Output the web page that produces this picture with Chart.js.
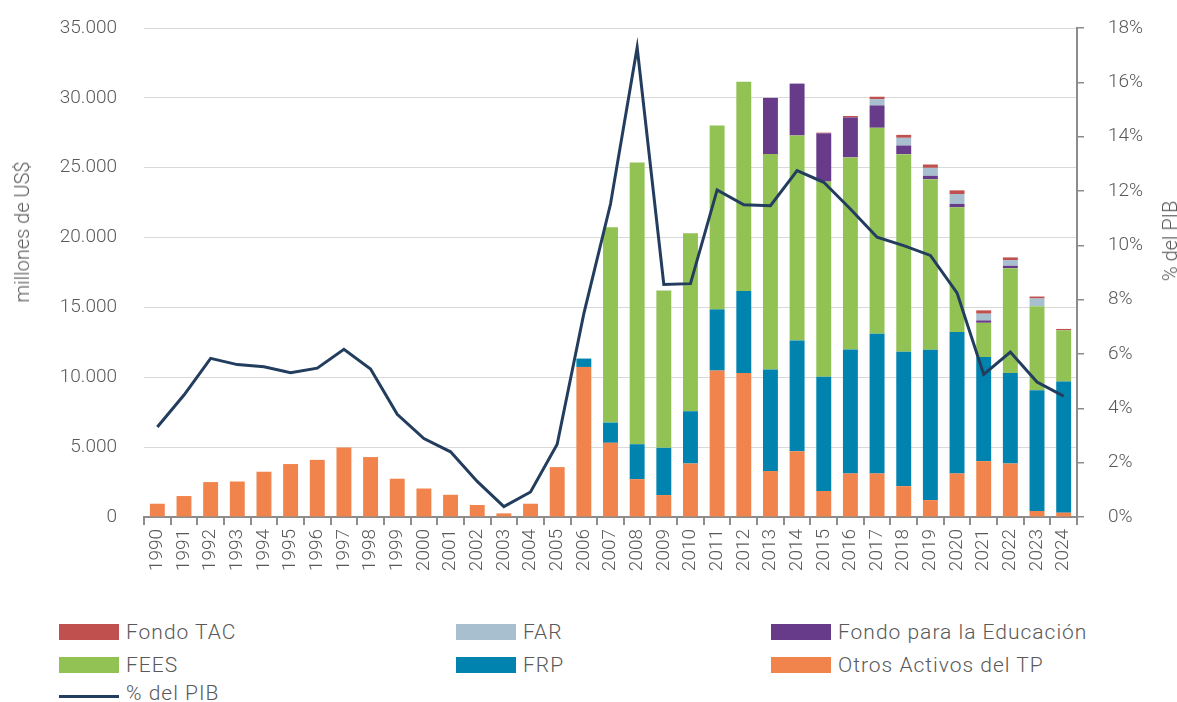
<!DOCTYPE html>
<html>
<head>
<meta charset="utf-8">
<script src="https://cdn.jsdelivr.net/npm/chart.js@4"></script>
<style>
  body { margin: 0; background: #fff; font-family: Roboto, sans-serif; font-weight: 300; color: #595959; }
  #wrap { position: relative; width: 1177px; height: 702px; }
  #box { position: absolute; left: 0; top: 0; width: 1177px; height: 605px; }
  .ytitle { position: absolute; font-size: 20px; white-space: nowrap; transform: translate(-50%, -50%) rotate(-90deg); }
  .leg { position: absolute; font-size: 21px; white-space: nowrap; line-height: 20px; letter-spacing: 1px; }
  .leg span { position: absolute; left: 0; top: 2px; width: 60px; height: 16px; }
  .leg b { font-weight: 300; position: absolute; left: 67px; top: 0; }
</style>
</head>
<body>
<div id="wrap">
  <div id="box"><canvas id="grafico"></canvas></div>
  <div class="ytitle" style="left:22px; top:232px;">millones de US$</div>
  <div class="ytitle" style="left:1170px; top:241px;">% del PIB</div>
  <div id="legenda"></div>
</div>
<script>
// anos
var anos = ['1990','1991','1992','1993','1994','1995','1996','1997','1998','1999','2000','2001','2002','2003','2004','2005','2006','2007','2008','2009','2010','2011','2012','2013','2014','2015','2016','2017','2018','2019','2020','2021','2022','2023','2024'];
// millones de US$
var otrosActivos = [950,1500,2500,2540,3240,3790,4090,4970,4290,2740,2040,1590,860,260,950,3570,10740,5310,2710,1570,3830,10480,10310,3290,4710,1860,3120,3120,2210,1210,3120,4000,3830,430,310];
var frp = [0,0,0,0,0,0,0,0,0,0,0,0,0,0,0,0,600,1450,2500,3380,3740,4380,5860,7260,7930,8170,8860,10000,9620,10760,10120,7450,6480,8640,9380];
var fees = [0,0,0,0,0,0,0,0,0,0,0,0,0,0,0,0,0,13970,20170,11260,12740,13170,14980,15430,14670,13980,13760,14740,14140,12210,8930,2450,7500,6020,3670];
var fondoEducacion = [0,0,0,0,0,0,0,0,0,0,0,0,0,0,0,0,0,0,0,0,0,0,0,4020,3710,3450,2860,1600,620,240,240,170,170,0,0];
var far = [0,0,0,0,0,0,0,0,0,0,0,0,0,0,0,0,0,0,0,0,0,0,0,0,0,0,0,450,550,570,710,480,410,550,0];
var fondoTac = [0,0,0,0,0,0,0,0,0,0,0,0,0,0,0,0,0,0,0,0,0,0,0,0,0,50,100,170,210,240,260,240,190,140,100];
// % del PIB
var pctPib = [3.31,4.49,5.84,5.61,5.53,5.31,5.48,6.17,5.45,3.78,2.89,2.40,1.31,0.38,0.92,2.68,7.49,11.52,17.28,8.56,8.59,12.04,11.49,11.46,12.75,12.32,11.34,10.30,9.99,9.63,8.25,5.25,6.07,4.97,4.45];

var cinza = '#595959';
var fonte = { family: 'Roboto', weight: '300', size: 19 };

function barra(label, data, cor) {
    return { type: 'bar', label: label, data: data, backgroundColor: cor, borderWidth: 0,
             yAxisID: 'y', order: 1, categoryPercentage: 1, barPercentage: 0.56 };
}

var ctx = document.getElementById('grafico');
var grafico = new Chart(ctx, {
    data: {
        labels: anos,
        datasets: [
            { type: 'line', label: '% del PIB', data: pctPib, borderColor: '#233d5e', borderWidth: 3,
              pointRadius: 0, tension: 0, yAxisID: 'y2', order: 0, fill: false },
            barra('Otros Activos del TP', otrosActivos, '#f0844c'),
            barra('FRP', frp, '#0084af'),
            barra('FEES', fees, '#92c254'),
            barra('Fondo para la Educación', fondoEducacion, '#673a8a'),
            barra('FAR', far, '#a8bfd0'),
            barra('Fondo TAC', fondoTac, '#c0504d')
        ]
    },
    options: {
        responsive: true,
        maintainAspectRatio: false,
        animation: false,
        layout: { padding: { top: 28, left: 0, right: 0, bottom: 0 } },
        plugins: { legend: { display: false }, tooltip: { enabled: false } },
        scales: {
            x: {
                stacked: true,
                offset: true,
                grid: { offset: true, drawOnChartArea: false, drawTicks: true, tickLength: 8, color: '#8c8c8c', lineWidth: 2 },
                border: { display: true, color: '#8c8c8c', width: 2 },
                ticks: { color: cinza, font: fonte, minRotation: 90, maxRotation: 90, padding: 4, autoSkip: false },
                afterFit: function (s) { s.height = 88; }
            },
            y: {
                stacked: true,
                position: 'left',
                min: 0, max: 35000,
                ticks: { stepSize: 5000, color: cinza, font: fonte, padding: 27,
                         callback: function (v) { return String(v).replace(/\B(?=(\d{3})+(?!\d))/g, '.'); } },
                grid: { color: '#d9d9d9', lineWidth: 1, drawTicks: false },
                border: { display: false },
                afterFit: function (s) { s.width = 144; s.paddingTop = 0; s.paddingBottom = 0; }
            },
            y2: {
                position: 'right',
                min: 0, max: 18,
                ticks: { stepSize: 2, color: cinza, font: fonte, padding: 24,
                         callback: function (v) { return v + '%'; } },
                grid: { drawOnChartArea: false, drawTicks: true, tickLength: 7, color: '#8c8c8c', lineWidth: 1.5 },
                border: { display: true, color: '#8c8c8c', width: 2 },
                afterFit: function (s) { s.width = 100; s.paddingTop = 0; s.paddingBottom = 0; }
            }
        }
    }
});

// legenda em 3 colunas
var itensLegenda = [
    ['Fondo TAC', '#c0504d', 59, 622], ['FAR', '#a8bfd0', 456, 622], ['Fondo para la Educación', '#673a8a', 771, 622],
    ['FEES', '#92c254', 59, 655], ['FRP', '#0084af', 456, 655], ['Otros Activos del TP', '#f0844c', 771, 655],
    ['% del PIB', 'linha', 59, 683]
];
var leg = document.getElementById('legenda');
itensLegenda.forEach(function (it) {
    var d = document.createElement('div');
    d.className = 'leg';
    d.style.left = it[2] + 'px';
    d.style.top = it[3] + 'px';
    var sw = it[1] === 'linha'
        ? '<span style="top:12px;height:3px;background:#233d5e"></span>'
        : '<span style="background:' + it[1] + '"></span>';
    d.innerHTML = sw + '<b>' + it[0] + '</b>';
    leg.appendChild(d);
});
</script>
</body>
</html>
